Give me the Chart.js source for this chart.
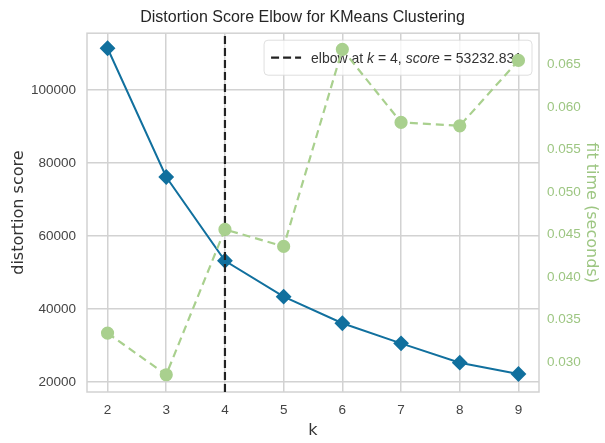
<!DOCTYPE html>
<html>
<head>
<meta charset="utf-8">
<script src="https://cdn.jsdelivr.net/npm/chart.js@4"></script>
<style>
  body { margin: 0; background: #fff; }
  canvas { display: block; }
</style>
</head>
<body>
<canvas id="elbowChart" width="605" height="443"></canvas>
<script>
// values
const kValues = [2, 3, 4, 5, 6, 7, 8, 9];
const distortion = [111500, 76200, 53232.831, 43400, 36100, 30600, 25300, 22200];
const fitTime = [0.0334, 0.0285, 0.0456, 0.0436, 0.0668, 0.0582, 0.0578, 0.0655];
const elbowK = 4;
const elbowScore = 53232.831;
const distortionTicks = [20000, 40000, 60000, 80000, 100000];
const fitTicks = [0.030, 0.035, 0.040, 0.045, 0.050, 0.055, 0.060, 0.065];
const kRange = [1.65, 9.35];
const distortionRange = [17260, 115620];
const fitRange = [0.02647, 0.0687];

const BLUE = '#11709e';
const GREEN = '#a9d08e';
const GREEN_TEXT = '#9dc682';
const GRID = '#d2d2d2';
const TICKFONT = '"Liberation Sans", Arial, sans-serif';
const LABELFONT = '"DejaVu Sans", sans-serif';

// plot frame (top + right sides too, like matplotlib)
const frame = {
  id: 'frame',
  beforeDatasetsDraw(chart) {
    const a = chart.chartArea, c = chart.ctx;
    c.save();
    c.strokeStyle = GRID;
    c.lineWidth = 1.5;
    c.strokeRect(a.left, a.top, a.right - a.left, a.bottom - a.top);
    c.restore();
  }
};

// legend box inside the plot, drawn under the fit time series
const elbowLegend = {
  id: 'elbowLegend',
  beforeDatasetDraw(chart, args) {
    if (args.index !== 0) return;
    const c = chart.ctx, a = chart.chartArea;
    const parts = [
      ['elbow at ', false], ['k', true], [' = ' + elbowK + ', ', false],
      ['score', true], [' = ' + elbowScore.toFixed(3), false]
    ];
    const size = 14;
    c.save();
    let tw = 0;
    parts.forEach(p => {
      c.font = (p[1] ? 'italic ' : '') + size + 'px ' + TICKFONT;
      tw += c.measureText(p[0]).width;
    });
    const w = tw + 57, h = 35;
    const x = a.right - 7 - w, y = a.top + 7;
    c.beginPath();
    c.roundRect(x, y, w, h, 4);
    c.fillStyle = 'rgba(255,255,255,0.8)';
    c.fill();
    c.strokeStyle = 'rgba(215,215,215,0.8)';
    c.lineWidth = 1;
    c.stroke();
    c.beginPath();
    c.setLineDash([8, 4]);
    c.moveTo(x + 7, y + h / 2);
    c.lineTo(x + 37, y + h / 2);
    c.strokeStyle = '#222';
    c.lineWidth = 2.2;
    c.stroke();
    c.setLineDash([]);
    let tx = x + 47;
    c.fillStyle = '#333';
    c.textBaseline = 'middle';
    parts.forEach(p => {
      c.font = (p[1] ? 'italic ' : '') + size + 'px ' + TICKFONT;
      c.fillText(p[0], tx, y + h / 2 + 1);
      tx += c.measureText(p[0]).width;
    });
    c.restore();
  }
};

const ctx = document.getElementById('elbowChart').getContext('2d');
new Chart(ctx, {
  type: 'line',
  data: {
    datasets: [
      {
        label: 'fit time',
        data: kValues.map((k, i) => ({x: k, y: fitTime[i]})),
        yAxisID: 'y1',
        order: 0,
        borderColor: GREEN,
        borderWidth: 2.2,
        borderDash: [8, 5],
        pointStyle: 'circle',
        pointRadius: 5.5,
        pointBackgroundColor: GREEN,
        pointBorderColor: GREEN,
        tension: 0
      },
      {
        label: 'elbow',
        data: [{x: elbowK, y: distortionRange[0]}, {x: elbowK, y: distortionRange[1]}],
        yAxisID: 'y',
        order: 1,
        borderColor: '#222',
        borderWidth: 2.2,
        borderDash: [8, 4],
        pointRadius: 0
      },
      {
        label: 'distortion score',
        data: kValues.map((k, i) => ({x: k, y: distortion[i]})),
        yAxisID: 'y',
        order: 2,
        borderColor: BLUE,
        borderWidth: 2,
        pointStyle: 'rectRot',
        pointRadius: 6.5,
        pointBackgroundColor: BLUE,
        pointBorderColor: BLUE,
        tension: 0
      }
    ]
  },
  options: {
    responsive: false,
    animation: false,
    events: [],
    layout: { padding: 0 },
    plugins: {
      legend: { display: false },
      tooltip: { enabled: false },
      title: {
        display: true,
        text: 'Distortion Score Elbow for KMeans Clustering',
        color: '#262626',
        font: { family: TICKFONT, size: 16, weight: 'normal' },
        padding: { top: 8, bottom: 6 }
      }
    },
    scales: {
      x: {
        type: 'linear',
        min: kRange[0],
        max: kRange[1],
        afterBuildTicks: s => { s.ticks = kValues.map(v => ({value: v})); },
        afterFit: s => { s.height = 51; },
        grid: { color: GRID, lineWidth: 1.5, drawTicks: false },
        border: { display: false },
        ticks: { color: '#444', padding: 10, font: { family: TICKFONT, size: 13.5 } },
        title: {
          display: true, text: 'k', color: '#333',
          font: { family: LABELFONT, size: 16 }, padding: { top: 0, bottom: 2.5 }
        }
      },
      y: {
        position: 'left',
        min: distortionRange[0],
        max: distortionRange[1],
        afterBuildTicks: s => { s.ticks = distortionTicks.map(v => ({value: v})); },
        afterFit: s => { s.width = 87; },
        grid: { color: GRID, lineWidth: 1.5, drawTicks: false },
        border: { display: false },
        ticks: { color: '#444', padding: 11, font: { family: TICKFONT, size: 13.5 }, callback: v => String(v) },
        title: {
          display: true, text: 'distortion score', color: '#333',
          font: { family: LABELFONT, size: 16 }, padding: { top: 9.5, bottom: 0 }
        }
      },
      y1: {
        position: 'right',
        min: fitRange[0],
        max: fitRange[1],
        afterBuildTicks: s => { s.ticks = fitTicks.map(v => ({value: v})); },
        afterFit: s => { s.width = 66; },
        grid: { display: false, drawTicks: false },
        border: { display: false },
        ticks: { color: GREEN_TEXT, padding: 8, font: { family: TICKFONT, size: 13.5 }, callback: v => v.toFixed(3) },
        title: {
          display: true, text: 'fit time (seconds)', color: GREEN_TEXT,
          font: { family: LABELFONT, size: 16 }, padding: { top: 4.5, bottom: 0 }
        }
      }
    }
  },
  plugins: [frame, elbowLegend]
});
</script>
</body>
</html>
